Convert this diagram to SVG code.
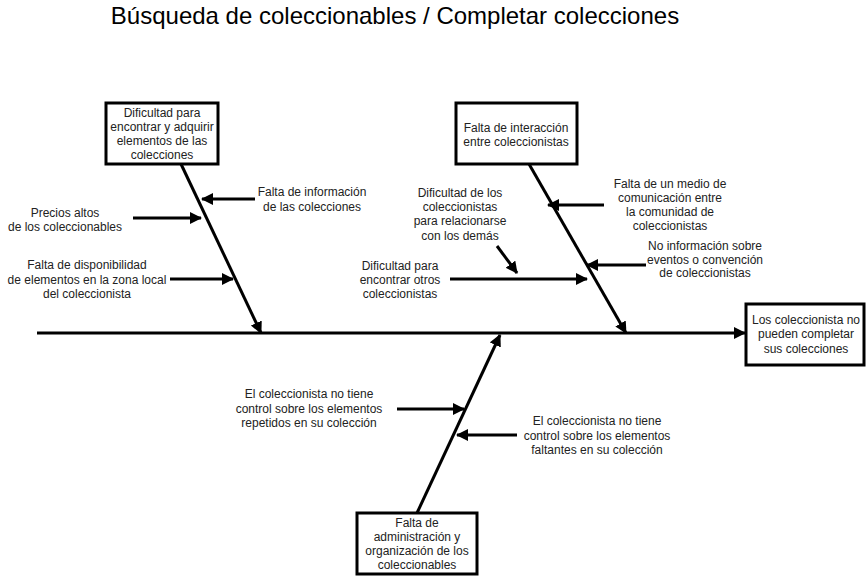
<svg xmlns="http://www.w3.org/2000/svg" width="868" height="576" viewBox="0 0 868 576">
<style>
.bg{fill:#ffffff}
.box{fill:#ffffff;stroke:#000000;stroke-width:3}
.ln{fill:none;stroke:#000000;stroke-width:3}
text{font-family:"Liberation Sans",Arial,sans-serif;font-size:12px;fill:#222222;text-anchor:middle}
.title{font-size:24px;fill:#000000}
</style>
<defs>
<marker id="ah" markerUnits="userSpaceOnUse" markerWidth="14" markerHeight="14" refX="11" refY="6" orient="auto">
<path d="M0,0 L12,6 L0,12 z" fill="#000000"/>
</marker>
</defs>
<rect class="bg" x="0" y="0" width="868" height="576"/>
<text class="title" x="395" y="24">Búsqueda de coleccionables / Completar colecciones</text>

<g id="connectors">
<line class="ln" x1="37" y1="333" x2="745" y2="333" marker-end="url(#ah)"/>
<line class="ln" x1="181" y1="164" x2="261" y2="333" marker-end="url(#ah)"/>
<line class="ln" x1="529" y1="164" x2="626" y2="333" marker-end="url(#ah)"/>
<line class="ln" x1="417" y1="513" x2="500" y2="335" marker-end="url(#ah)"/>
<line class="ln" x1="255" y1="199" x2="202" y2="199" marker-end="url(#ah)"/>
<line class="ln" x1="133" y1="218" x2="201" y2="218" marker-end="url(#ah)"/>
<line class="ln" x1="170" y1="279" x2="233" y2="279" marker-end="url(#ah)"/>
<line class="ln" x1="497" y1="246" x2="517" y2="273" marker-end="url(#ah)"/>
<line class="ln" x1="450" y1="279" x2="587" y2="279" marker-end="url(#ah)"/>
<line class="ln" x1="604" y1="205" x2="548" y2="205" marker-end="url(#ah)"/>
<line class="ln" x1="646" y1="265" x2="587" y2="265" marker-end="url(#ah)"/>
<line class="ln" x1="397" y1="409" x2="464" y2="409" marker-end="url(#ah)"/>
<line class="ln" x1="517" y1="435" x2="457" y2="435" marker-end="url(#ah)"/>
</g>

<g id="node-cat1">
<rect class="box" x="106" y="103" width="112" height="61"/>
<text x="162" y="117">Dificultad para</text>
<text x="162" y="131">encontrar y adquirir</text>
<text x="162" y="145">elementos de las</text>
<text x="162" y="159">colecciones</text>
</g>
<g id="node-cat2">
<rect class="box" x="456" y="103" width="121" height="61"/>
<text x="516" y="132">Falta de interacción</text>
<text x="516" y="146">entre coleccionistas</text>
</g>
<g id="node-effect">
<rect class="box" x="746" y="304" width="118" height="61"/>
<text x="806" y="324">Los coleccionista no</text>
<text x="806" y="338">pueden completar</text>
<text x="806" y="353">sus colecciones</text>
</g>
<g id="node-cat3">
<rect class="box" x="357" y="513" width="120" height="61"/>
<text x="417" y="527">Falta de</text>
<text x="417" y="541">administración y</text>
<text x="417" y="555">organización de los</text>
<text x="417" y="569">coleccionables</text>
</g>

<g id="label-info">
<text x="312" y="196">Falta de información</text>
<text x="312" y="211">de las colecciones</text>
</g>
<g id="label-precios">
<text x="65" y="217">Precios altos</text>
<text x="65" y="231">de los coleccionables</text>
</g>
<g id="label-disponibilidad">
<text x="87" y="269">Falta de disponibilidad</text>
<text x="87" y="284">de elementos en la zona local</text>
<text x="87" y="298">del coleccionista</text>
</g>
<g id="label-relacionarse">
<text x="460" y="197">Dificultad de los</text>
<text x="460" y="211">coleccionistas</text>
<text x="460" y="225">para relacionarse</text>
<text x="460" y="240">con los demás</text>
</g>
<g id="label-encontrar">
<text x="400" y="270">Dificultad para</text>
<text x="400" y="284">encontrar otros</text>
<text x="400" y="298">coleccionistas</text>
</g>
<g id="label-medio">
<text x="670" y="188">Falta de un medio de</text>
<text x="670" y="202">comunicación entre</text>
<text x="670" y="216">la comunidad de</text>
<text x="670" y="230">coleccionistas</text>
</g>
<g id="label-eventos">
<text x="705" y="250">No información sobre</text>
<text x="705" y="264">eventos o convención</text>
<text x="705" y="277">de coleccionistas</text>
</g>
<g id="label-repetidos">
<text x="309" y="398">El coleccionista no tiene</text>
<text x="309" y="413">control sobre los elementos</text>
<text x="309" y="427">repetidos en su colección</text>
</g>
<g id="label-faltantes">
<text x="597" y="425">El coleccionista no tiene</text>
<text x="597" y="440">control sobre los elementos</text>
<text x="597" y="454">faltantes en su colección</text>
</g>
</svg>
